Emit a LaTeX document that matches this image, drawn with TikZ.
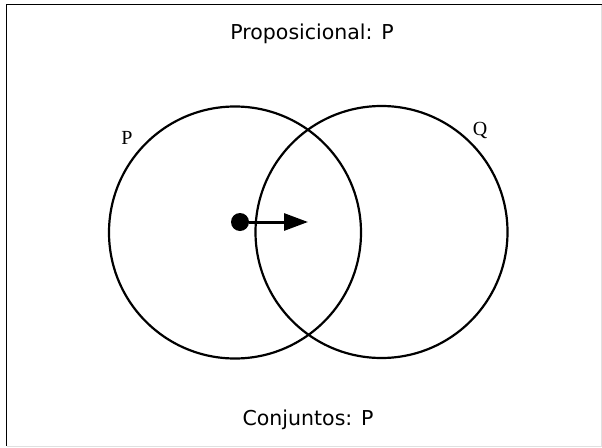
\documentclass[tikz,border=0pt]{standalone}
\usepackage{fontspec}
\setsansfont{DejaVu Sans}
\setmainfont{Liberation Serif}
\usetikzlibrary{arrows.meta}

\begin{document}
\begin{tikzpicture}[x=1pt,y=-1pt,
        setcirc/.style={draw,circle,line width=2.2pt,minimum size=252pt,inner sep=0pt},
        caption/.style={font=\sffamily\fontsize{20.5}{24}\selectfont,anchor=base},
        setname/.style={font=\fontsize{20}{22}\selectfont}]
        \useasboundingbox (0,0) rectangle (602,447);
        % frame
        \draw[line width=0.8pt,black!12] (601,4.5) -- (601,446) -- (6.5,446);
        \draw[line width=1.5pt] (6.5,446) -- (6.5,4.5) -- (602,4.5);
        \node[caption] (prop) at (312,39) {Proposicional: P};
        \node[caption] (conj) at (308,425) {Conjuntos: P};
        \node[setcirc] (P) at (235,232.5) {};
        \node[setcirc] (Q) at (381.5,232) {};
        \node[setname] (lp) at (127,138) {P};
        \node[setname] (lq) at (480,130) {Q};
        \node[circle,fill,minimum size=18pt,inner sep=0pt] (dot) at (240,222) {};
        \coordinate (tip) at (308,222);
        \draw[line width=3pt,-{Triangle[length=24pt,width=17pt]}] (dot) -- (tip);
\end{tikzpicture}
\end{document}
